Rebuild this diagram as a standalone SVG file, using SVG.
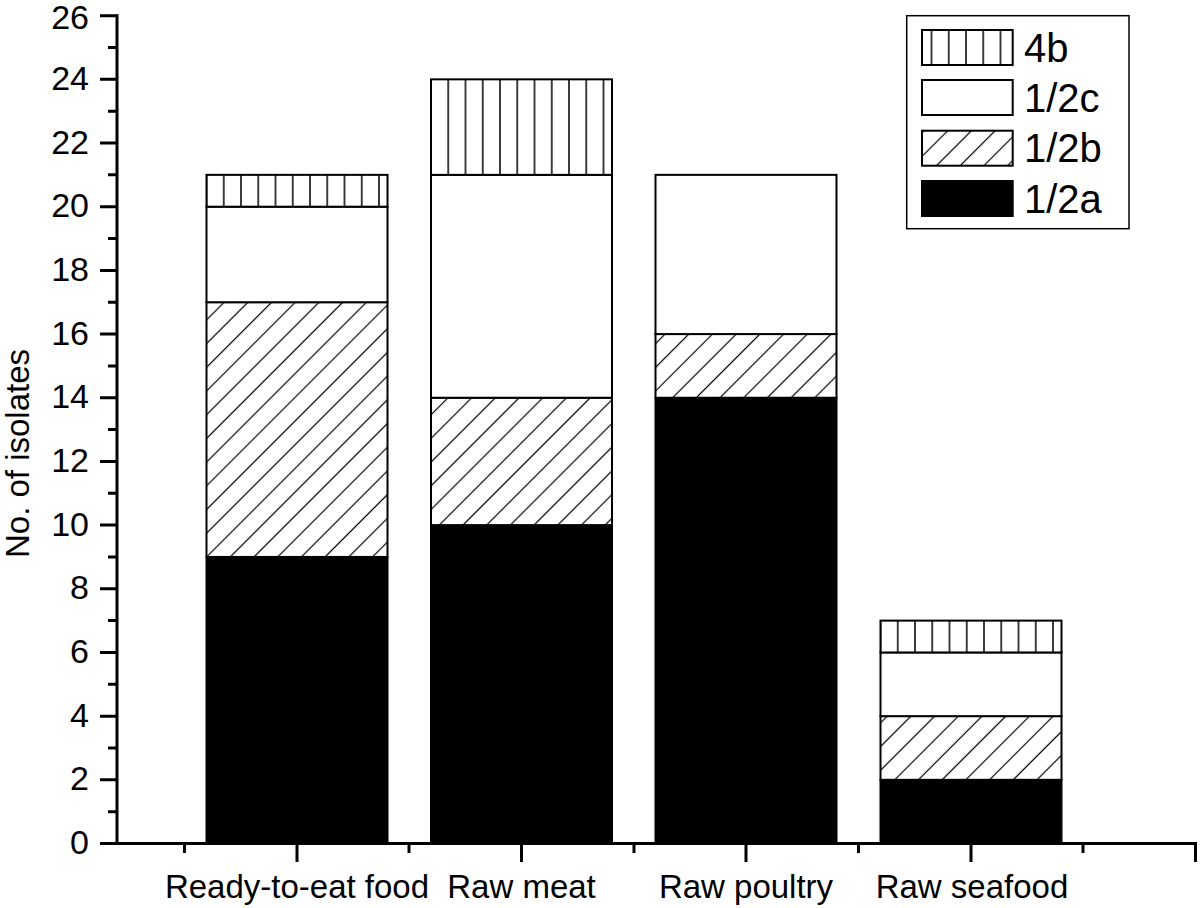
<svg xmlns="http://www.w3.org/2000/svg" width="1200" height="908" viewBox="0 0 1200 908">
<style>
text{font-family:"Liberation Sans",Arial,sans-serif;fill:#000}
.tl{font-size:34px;text-anchor:end}
.xl{font-size:33px;text-anchor:middle}
.yl{font-size:33px;text-anchor:middle}
.lg{font-size:40px}
.ax{stroke:#000;stroke-width:3;fill:none}
.a{fill:#000;stroke:#000;stroke-width:2}
.b{fill:url(#hatch);stroke:#000;stroke-width:2}
.c{fill:#fff;stroke:#000;stroke-width:2}
.d{fill:url(#vl);stroke:#000;stroke-width:2}
</style>
<defs>
<pattern id="vl" patternUnits="userSpaceOnUse" x="-8.625" y="0" width="17.25" height="20">
<rect width="17.25" height="20" fill="#fff"/>
<line x1="8.625" y1="0" x2="8.625" y2="20" stroke="#000" stroke-width="1.5"/>
</pattern>
<pattern id="hatch" patternUnits="userSpaceOnUse" width="16.76" height="16.76" patternTransform="rotate(45)">
<rect width="16.76" height="16.76" fill="#fff"/>
<line x1="8.38" y1="0" x2="8.38" y2="16.76" stroke="#000" stroke-width="1.2"/>
</pattern>
</defs>
<rect width="1200" height="908" fill="#fff"/>

<g id="bars">
<g id="bar-ready-to-eat" transform="translate(206.5,0)">
<rect class="a" x="0" y="556.94" width="181" height="286.56"/>
<rect class="b" x="0" y="302.22" width="181" height="254.72"/>
<rect class="c" x="0" y="206.7" width="181" height="95.52"/>
<rect class="d" x="0" y="174.86" width="181" height="31.84"/>
</g>
<g id="bar-raw-meat" transform="translate(431,0)">
<rect class="a" x="0" y="525.1" width="181" height="318.4"/>
<rect class="b" x="0" y="397.74" width="181" height="127.36"/>
<rect class="c" x="0" y="174.86" width="181" height="222.88"/>
<rect class="d" x="0" y="79.34" width="181" height="95.52"/>
</g>
<g id="bar-raw-poultry" transform="translate(655.5,0)">
<rect class="a" x="0" y="397.74" width="181" height="445.76"/>
<rect class="b" x="0" y="334.06" width="181" height="63.68"/>
<rect class="c" x="0" y="174.86" width="181" height="159.2"/>
</g>
<g id="bar-raw-seafood" transform="translate(880.5,0)">
<rect class="a" x="0" y="779.82" width="181" height="63.68"/>
<rect class="b" x="0" y="716.14" width="181" height="63.68"/>
<rect class="c" x="0" y="652.46" width="181" height="63.68"/>
<rect class="d" x="0" y="620.62" width="181" height="31.84"/>
</g>
</g>

<g id="axes">
<path class="ax" d="M117,14.2 V845 M100,843.5 H1197"/>
<path class="ax" d="M100,843.5H117 M108,811.66H117 M100,779.82H117 M108,747.98H117 M100,716.14H117 M108,684.3H117 M100,652.46H117 M108,620.62H117 M100,588.78H117 M108,556.94H117 M100,525.1H117 M108,493.26H117 M100,461.42H117 M108,429.58H117 M100,397.74H117 M108,365.9H117 M100,334.06H117 M108,302.22H117 M100,270.38H117 M108,238.54H117 M100,206.7H117 M108,174.86H117 M100,143.02H117 M108,111.18H117 M100,79.34H117 M108,47.5H117 M100,15.66H117"/>
<path class="ax" d="M297,843.5V862 M521.5,843.5V862 M746,843.5V862 M971,843.5V862 M1195.5,843.5V862 M184.5,843.5V853 M409,843.5V853 M634,843.5V853 M858.5,843.5V853 M1083,843.5V853"/>
<g id="y-tick-labels">
<text class="tl" x="89" y="854.1">0</text>
<text class="tl" x="89" y="790.4">2</text>
<text class="tl" x="89" y="726.7">4</text>
<text class="tl" x="89" y="663.1">6</text>
<text class="tl" x="89" y="599.4">8</text>
<text class="tl" x="89" y="535.7">10</text>
<text class="tl" x="89" y="472">12</text>
<text class="tl" x="89" y="408.3">14</text>
<text class="tl" x="89" y="344.7">16</text>
<text class="tl" x="89" y="281">18</text>
<text class="tl" x="89" y="217.3">20</text>
<text class="tl" x="89" y="153.6">22</text>
<text class="tl" x="89" y="89.9">24</text>
<text class="tl" x="89" y="29">26</text>
</g>
<g id="x-labels">
<text class="xl" x="297" y="898">Ready-to-eat food</text>
<text class="xl" x="521.5" y="898">Raw meat</text>
<text class="xl" x="746" y="898">Raw poultry</text>
<text class="xl" x="972" y="898">Raw seafood</text>
</g>
<text class="yl" transform="translate(29,453.5) rotate(-90)" x="0" y="0">No. of isolates</text>
</g>

<g id="legend">
<rect x="906.7" y="15.7" width="222.3" height="213" fill="#fff" stroke="#000" stroke-width="1.5"/>
<g id="legend-4b">
<rect class="d" x="922" y="30" width="90.7" height="35"/>
<text class="lg" x="1024" y="61.7">4b</text>
</g>
<g id="legend-1-2c">
<rect class="c" x="922" y="80" width="90.7" height="35"/>
<text class="lg" x="1024" y="111.5">1/2c</text>
</g>
<g id="legend-1-2b">
<rect class="b" x="922" y="130.7" width="90.7" height="35"/>
<text class="lg" x="1024" y="162">1/2b</text>
</g>
<g id="legend-1-2a">
<rect class="a" x="922" y="181" width="90.7" height="35"/>
<text class="lg" x="1024" y="212.5">1/2a</text>
</g>
</g>
</svg>
